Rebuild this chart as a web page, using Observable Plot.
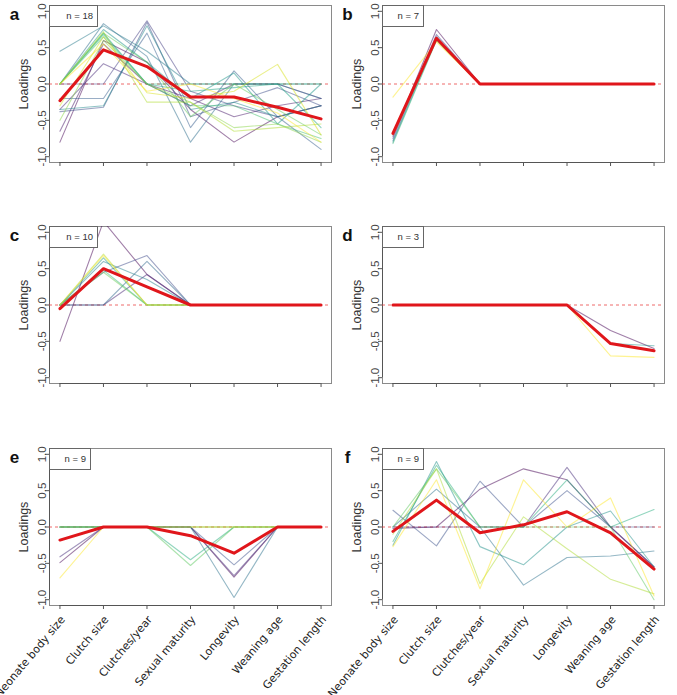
<!DOCTYPE html>
<html><head><meta charset="utf-8">
<script src="https://cdn.jsdelivr.net/npm/d3@7"></script>
<script src="https://cdn.jsdelivr.net/npm/@observablehq/plot@0.6"></script>
<style>
body{margin:0;background:#fff}
#c{position:relative;width:677px;height:695px;overflow:hidden;background:#fff}
.p{position:absolute}
</style>
</head><body><div id="c"></div>
<script>
const traits = ["Neonate body size","Clutch size","Clutches/year","Sexual maturity","Longevity","Weaning age","Gestation length"];
const yTicks = [-1, -0.5, 0, 0.5, 1];
const panelLetters = ["a","b","c","d","e","f"];

const linesA = [
  [-0.80, 0.60, 0.30, -0.35, -0.80, -0.45, -0.30],
  [-0.65, 0.55, 0.00, -0.20, -0.45, -0.30, -0.20],
  [-0.35, 0.28, 0.00, -0.30, 0.00, 0.00, -0.20],
  [0.00, 0.00, 0.87, -0.10, -0.30, -0.45, -0.30],
  [-0.38, -0.32, 0.85, -0.45, -0.25, -0.05, -0.30],
  [-0.20, -0.20, 0.70, -0.60, 0.18, -0.45, -0.90],
  [0.00, 0.83, 0.38, -0.80, 0.00, 0.00, -0.20],
  [0.45, 0.80, 0.45, 0.00, 0.00, 0.00, 0.00],
  [-0.35, -0.30, 0.80, -0.35, -0.25, -0.45, -0.30],
  [0.00, 0.75, 0.30, -0.20, 0.15, -0.55, 0.00],
  [0.00, 0.70, 0.00, -0.10, -0.05, 0.00, -0.60],
  [0.00, 0.68, 0.00, 0.00, 0.00, 0.00, 0.00],
  [0.00, 0.65, 0.00, -0.30, -0.30, -0.55, -0.75],
  [0.00, 0.70, 0.30, -0.45, 0.00, -0.35, -0.70],
  [-0.50, 0.60, 0.00, -0.25, -0.60, -0.55, -0.80],
  [0.00, 0.72, -0.25, -0.25, -0.65, -0.60, -0.55],
  [-0.30, 0.65, -0.12, -0.20, -0.10, 0.27, -0.70],
  [0.00, 0.55, -0.10, 0.00, -0.20, -0.40, -0.80]
];
const meanA = [-0.23, 0.47, 0.24, -0.18, -0.18, -0.32, -0.48];

const linesB = [
  [-0.72, 0.75, 0, 0, 0, 0, 0],
  [-0.75, 0.68, 0, 0, 0, 0, 0],
  [-0.78, 0.65, 0, 0, 0, 0, 0],
  [-0.80, 0.62, 0, 0, 0, 0, 0],
  [-0.82, 0.60, 0, 0, 0, 0, 0],
  [-0.70, 0.60, 0, 0, 0, 0, 0],
  [-0.18, 0.58, 0, 0, 0, 0, 0]
];
const meanB = [-0.68, 0.63, 0, 0, 0, 0, 0];

const linesC = [
  [-0.50, 1.15, 0.42, 0, 0, 0, 0],
  [0.00, 0.00, 0.42, 0, 0, 0, 0],
  [0.00, 0.45, 0.68, 0, 0, 0, 0],
  [0.00, 0.00, 0.60, 0, 0, 0, 0],
  [0.00, 0.60, 0.35, 0, 0, 0, 0],
  [0.00, 0.65, 0.00, 0, 0, 0, 0],
  [0.00, 0.48, 0.00, 0, 0, 0, 0],
  [0.00, 0.45, 0.00, 0, 0, 0, 0],
  [0.00, 0.70, 0.00, 0, 0, 0, 0],
  [0.00, 0.68, 0.00, 0, 0, 0, 0]
];
const meanC = [-0.05, 0.50, 0.25, 0, 0, 0, 0];

const linesD = [
  [0, 0, 0, 0, 0, -0.35, -0.60],
  [0, 0, 0, 0, 0, -0.53, -0.56],
  [0, 0, 0, 0, 0, -0.70, -0.72]
];
const meanD = [0, 0, 0, 0, 0, -0.53, -0.63];

const linesE = [
  [-0.49, 0, 0, 0, -0.69, 0, 0],
  [-0.41, 0, 0, 0, -0.67, 0, 0],
  [0, 0, 0, 0, -0.52, 0, 0],
  [0, 0, 0, 0, -0.97, 0, 0],
  [0, 0, 0, 0, 0, 0, 0],
  [0, 0, 0, -0.45, 0, 0, 0],
  [0, 0, 0, -0.53, 0, 0, 0],
  [0, 0, 0, 0, 0, 0, 0],
  [-0.70, 0, 0, 0, 0, 0, 0]
];
const meanE = [-0.18, 0, 0, -0.12, -0.36, 0, 0];

const linesF = [
  [-0.02, 0.00, 0.52, 0.80, 0.65, 0.00, -0.55],
  [0.00, 0.00, 0.00, 0.00, 0.82, 0.00, -0.55],
  [0.23, -0.26, 0.63, 0.00, 0.50, 0.00, 0.00],
  [0.00, 0.52, 0.00, -0.80, -0.42, -0.40, -0.33],
  [-0.25, 0.90, -0.27, -0.52, 0.00, 0.22, -0.55],
  [-0.20, 0.85, 0.00, 0.00, 0.65, 0.00, 0.24],
  [0.00, 0.80, 0.00, 0.00, 0.00, 0.00, -1.00],
  [-0.10, 0.80, -0.78, 0.14, -0.30, -0.72, -0.92],
  [-0.27, 0.65, -0.85, 0.65, 0.00, 0.40, -0.95]
];
const meanF = [-0.06, 0.37, -0.08, 0.03, 0.21, -0.08, -0.58];

const panels = [
  {lines: linesA, mean: meanA},
  {lines: linesB, mean: meanB},
  {lines: linesC, mean: meanC},
  {lines: linesD, mean: meanD},
  {lines: linesE, mean: meanE},
  {lines: linesF, mean: meanF}
];

const container = document.getElementById("c");
const frameW = 282, frameH = 157, mL = 49, mT = 5;
const colLeft = [0, 333], rowTop = [0, 221, 443];
const sans = "Liberation Sans, Arial, Helvetica, sans-serif";

panels.forEach((p, k) => {
  const col = k % 2, row = Math.floor(k / 2);
  const bottom = row === 2;
  const mB = bottom ? 90 : 12;
  const mR = 8;
  const W = mL + frameW + mR, H = mT + frameH + mB;
  const n = p.lines.length;
  const data = p.lines.flatMap((vals, i) => vals.map((v, j) => ({
    x: j + 1, y: v, s: i, c: d3.interpolateViridis(n > 1 ? i / (n - 1) : 0)
  })));
  const meanData = p.mean.map((v, j) => ({x: j + 1, y: v}));
  const xIdx = traits.map((t, i) => i + 1);
  const marks = [
    Plot.frame({stroke: "#8a8a8a"}),
    Plot.ruleX([xIdx[0] - 0.24], {y1: yTicks[0], y2: yTicks[yTicks.length - 1], stroke: "#555"}),
    Plot.ruleY([yTicks[0] - 0.08], {x1: xIdx[0], x2: xIdx[xIdx.length - 1], stroke: "#555"}),
    Plot.axisY({ticks: yTicks, tickSize: 4, tickFormat: () => "", label: null, stroke: "#555"}),
    Plot.axisX({ticks: xIdx, tickSize: 4, tickFormat: () => "", label: null, stroke: "#555"}),
    Plot.ruleY([0], {stroke: "#e8383a", strokeOpacity: 0.75, strokeDasharray: "3,3", strokeWidth: 1}),
    Plot.line(data, {x: "x", y: "y", z: "s", stroke: "c", strokeOpacity: 0.5, strokeWidth: 1.1, clip: true}),
    Plot.line(meanData, {x: "x", y: "y", stroke: "#e0161b", strokeWidth: 3, clip: true}),
    Plot.text(yTicks, {y: d => d, text: d => d.toFixed(1), frameAnchor: "left", rotate: -90, dx: -7,
      textAnchor: "middle", lineAnchor: "middle", fontSize: 11.5, fill: "#444", fontFamily: sans}),
    Plot.text(["Loadings"], {frameAnchor: "left", rotate: -90, dx: -26, textAnchor: "middle",
      lineAnchor: "middle", fontSize: 12.5, fill: "#333", fontFamily: sans}),
    Plot.text([panelLetters[k]], {frameAnchor: "top-left", dx: -35, dy: 9, textAnchor: "middle",
      lineAnchor: "middle", fontSize: 17, fontWeight: "bold", fill: "#111", fontFamily: sans})
  ];
  if (bottom) {
    marks.push(Plot.text(traits, {x: (d, i) => i + 1, text: d => d, frameAnchor: "bottom", rotate: -50,
      textAnchor: "end", lineAnchor: "middle", dx: 3, dy: 12, fontSize: 11, fill: "#222",
      fontFamily: "DejaVu Sans, sans-serif"}));
  }
  const svg = Plot.plot({
    width: W, height: H,
    marginLeft: mL, marginTop: mT, marginRight: mR, marginBottom: mB,
    x: {domain: [0.76, 7.24], axis: null},
    y: {domain: [-1.08, 1.08], axis: null},
    color: {type: "identity"},
    style: {background: "transparent", overflow: "visible", fontFamily: sans},
    marks
  });
  const label = `n = ${n}`;
  const boxW = 7 * label.length + 6, boxH = 21;
  const g = d3.select(svg).append("g");
  g.append("rect").attr("x", mL + 0.5).attr("y", mT + 0.5).attr("width", boxW).attr("height", boxH)
    .attr("fill", "#fff").attr("stroke", "#666");
  g.append("text").attr("x", mL + boxW - 4).attr("y", mT + boxH / 2 + 1).attr("text-anchor", "end")
    .attr("dominant-baseline", "middle").attr("font-size", 9.5).attr("fill", "#333")
    .attr("font-family", sans).text(label);
  const div = document.createElement("div");
  div.className = "p";
  div.style.left = colLeft[col] + "px";
  div.style.top = rowTop[row] + "px";
  div.style.width = W + "px";
  div.style.height = H + "px";
  div.appendChild(svg);
  container.appendChild(div);
});
</script>
</body></html>
